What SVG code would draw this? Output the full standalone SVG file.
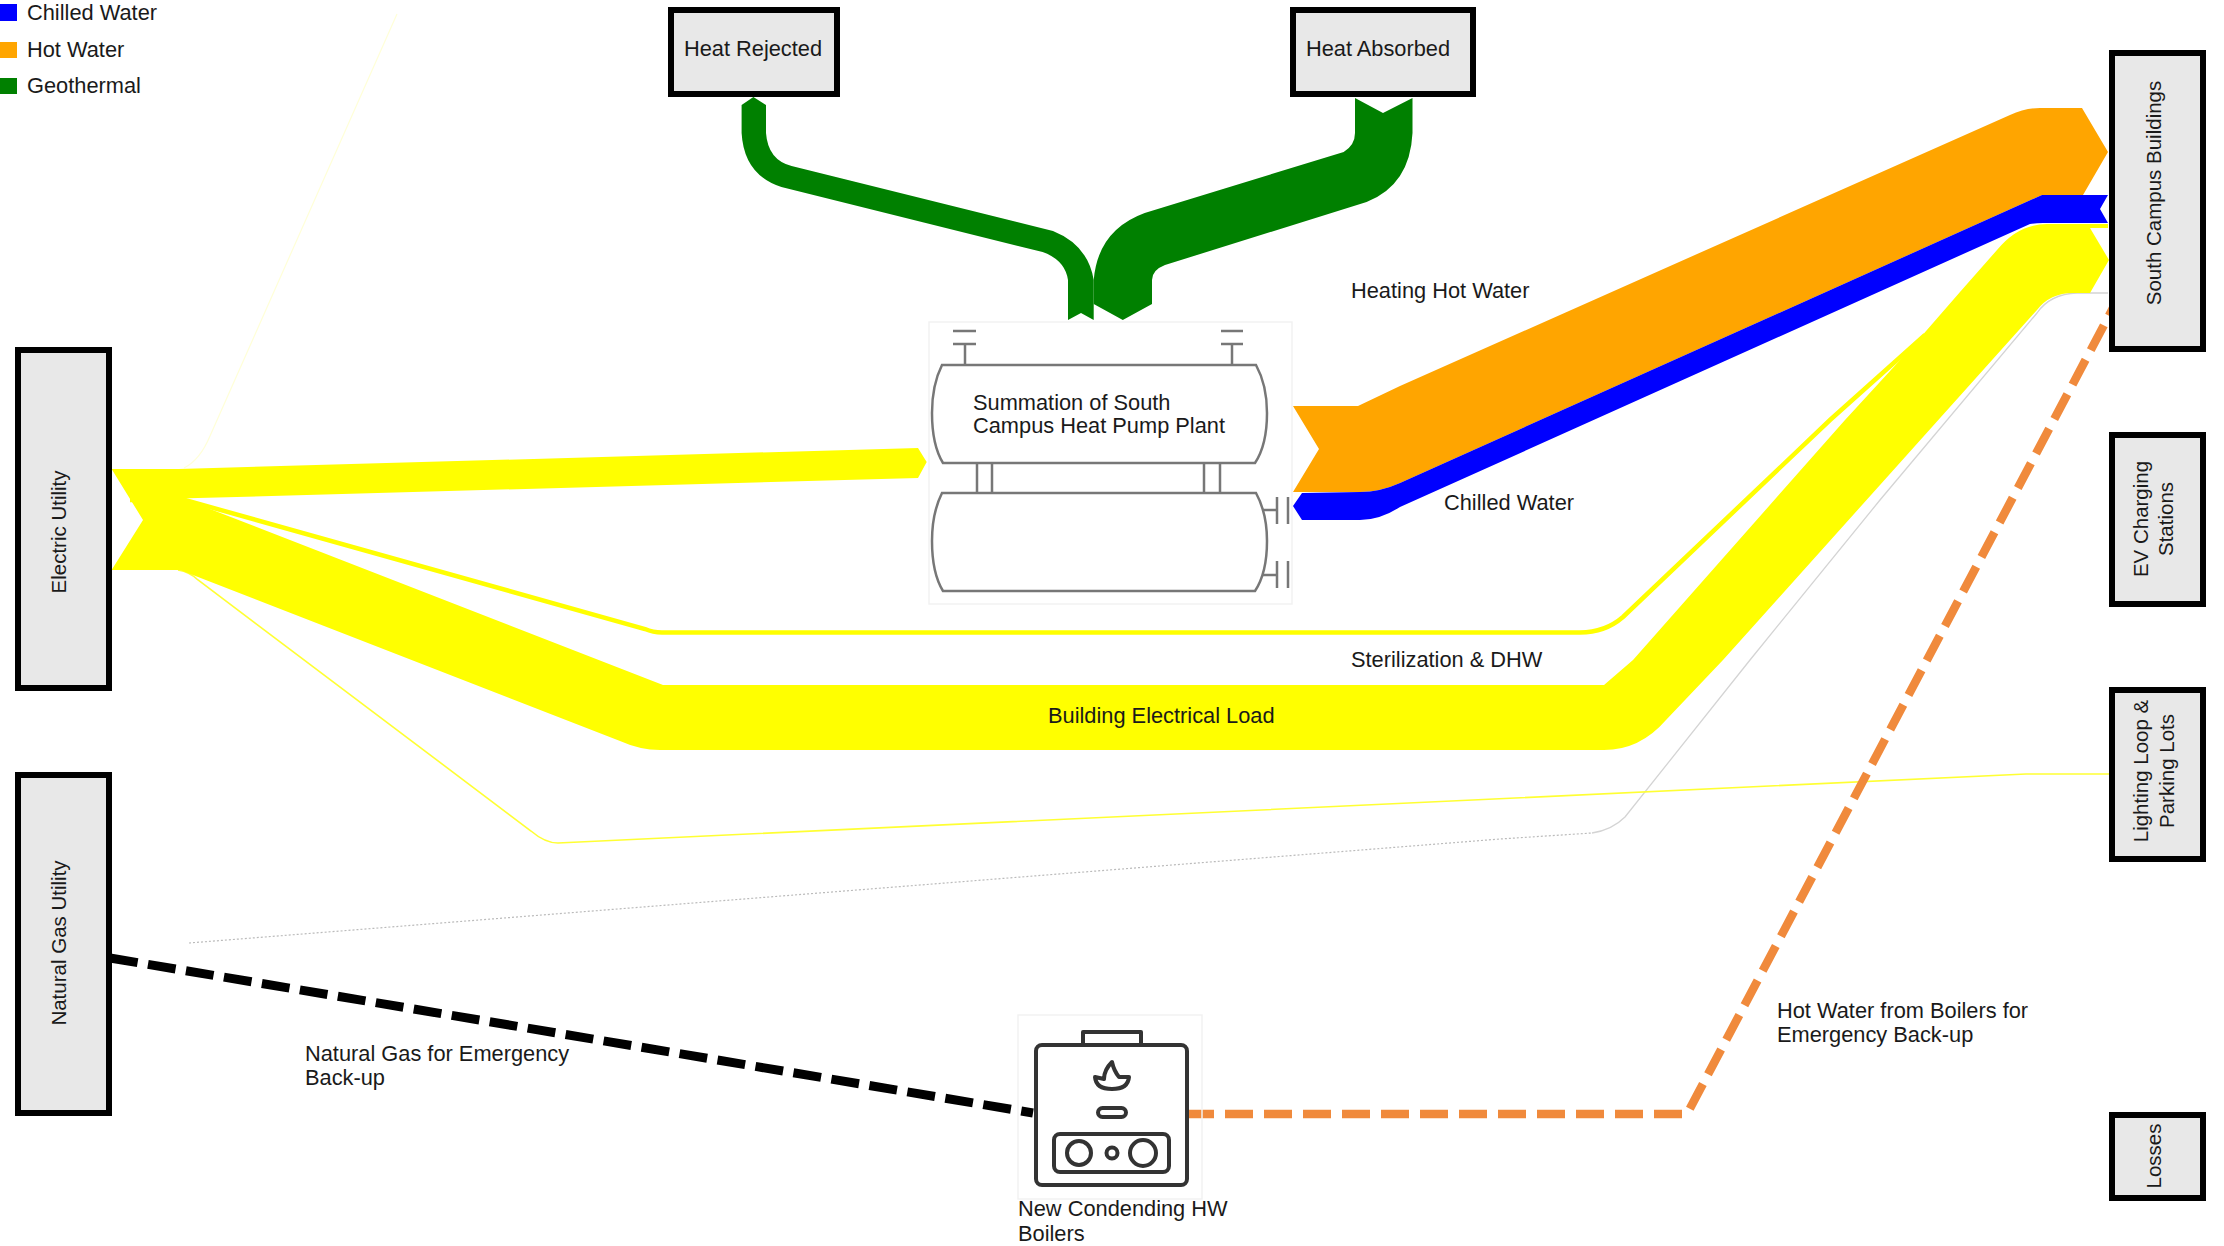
<svg xmlns="http://www.w3.org/2000/svg" width="2224" height="1246" viewBox="0 0 2224 1246">
<style>
text{font-family:"Liberation Sans",Arial,sans-serif;font-size:21.8px;fill:#1a1a1a}
.box{fill:#e8e8e8;stroke:#000;stroke-width:6}
text.rot{font-size:20.5px;text-anchor:middle}
.ctr{text-anchor:middle}
.tank{fill:#fff;stroke:#777;stroke-width:2.5}
.pipe{fill:none;stroke:#777;stroke-width:2.5}
.icon{fill:none;stroke:#333;stroke-width:4;stroke-linejoin:round}
.frame{fill:none;stroke:#f2f2f2;stroke-width:1.5}
</style>
<rect width="2224" height="1246" fill="#fff"/>
<g id="legend">
<rect x="0" y="4" width="17" height="17" fill="#0000ff"/><text x="27" y="20">Chilled Water</text>
<rect x="0" y="42" width="17" height="16" fill="#ffa500"/><text x="27" y="57">Hot Water</text>
<rect x="0" y="78" width="17" height="16" fill="#008000"/><text x="27" y="93">Geothermal</text>
</g>
<g id="connectors">
<path d="M184,468Q200,460 210,436L397,14" fill="none" stroke="#ffffd8" stroke-width="1.2"/>
<path d="M189,943L1500,839L1592,833" fill="none" stroke="#bbb" stroke-width="1.2" stroke-dasharray="2 2"/>
<path d="M1592,833Q1612,830 1625,817L1750,660L1880,500L2037,313Q2050,294 2077,293L2108,293" fill="none" stroke="#d4d4d4" stroke-width="1.3"/>
<path d="M178,570Q190,572 198,580L531,831Q545,843 558,843L2026,774L2109,774" fill="none" stroke="#ffff33" stroke-width="1.6"/>
<path d="M130,500L185,500L645,629Q653,632.5 662,632.5L1580,632.5Q1605,632.5 1623,617L1830,420L1925,335" fill="none" stroke="#ffff00" stroke-width="4.5"/>
<path fill="#ffff00" d="M111.6,469L178.6,469L918,448L926.7,462L918,478L178.6,498.6L134,498.6L143,520L134,502L192,502L663,685L1604,685L1633,660L1845,420L1913,346L1960,292L1997,250Q2018,224 2047,224L2108,224L2108,228L2090,228L2109,260L2090,293L2073,293Q2050,293 2037,310L1880,485L1723,660L1666,720Q1640,750 1604,750L660,750Q640,750 620,741L180,570L111.6,570L143,520Z"/>
<path fill="#ffa500" d="M1293,406L1358,406L1400,386L2010,115Q2025,108 2040,108L2082,108L2108,152L2083,195L2042,195L1400,483Q1380,492 1360,492L1293,492L1319,449Z"/>
<path fill="#0000ff" d="M1293,506L1302,493L1360,492Q1380,492 1400,483L2042,195L2108,195L2100,209L2108,223L2043,223Q2035,223 2030,224L1400,507Q1380,520 1360,520L1302,520Z"/>
<path fill="#008000" d="M753.4,97L766,105L766,133Q768,160 791.6,166L1053,231Q1088,245 1093.7,280L1093.7,320L1081,313L1068,320L1068,280Q1065,260 1042.6,252L781.4,187Q744,175 741.6,133L741.6,105Z"/>
<path fill="#008000" d="M1355,98L1383,113L1412.5,98L1412.5,133Q1410,185 1366.6,202L1165,265Q1152,270 1152,280L1152,304L1122.8,320L1093.7,304L1093.7,280Q1098,230 1144.7,213L1343.7,152Q1355,145 1355,133Z"/>
<path d="M110,958L1033,1113" fill="none" stroke="#000" stroke-width="9" stroke-dasharray="28 10.5"/>
<path d="M1186,1114L1687,1114L2113,308" fill="none" stroke="#f08a3c" stroke-width="8.5" stroke-dasharray="28 11"/>
</g>
<g id="electric-utility"><rect class="box" x="18" y="350" width="91" height="338"/><text class="rot" transform="translate(66,532) rotate(-90)">Electric Utility</text></g>
<g id="natural-gas-utility"><rect class="box" x="18" y="775" width="91" height="338"/><text class="rot" transform="translate(66,943) rotate(-90)">Natural Gas Utility</text></g>
<g id="heat-rejected"><rect class="box" x="671" y="10" width="166" height="84"/><text class="ctr" x="753" y="56">Heat Rejected</text></g>
<g id="heat-absorbed"><rect class="box" x="1293" y="10" width="180" height="84"/><text class="ctr" x="1378" y="56">Heat Absorbed</text></g>
<g id="south-campus"><rect class="box" x="2112" y="53" width="91" height="296"/><text class="rot" transform="translate(2161,193) rotate(-90)">South Campus Buildings</text></g>
<g id="ev-charging"><rect class="box" x="2112" y="435" width="91" height="169"/><text class="rot" transform="translate(2148,519) rotate(-90)">EV Charging</text><text class="rot" transform="translate(2173,519) rotate(-90)">Stations</text></g>
<g id="lighting"><rect class="box" x="2112" y="690" width="91" height="169"/><text class="rot" transform="translate(2148,771) rotate(-90)">Lighting Loop &amp;</text><text class="rot" transform="translate(2174,771) rotate(-90)">Parking Lots</text></g>
<g id="losses"><rect class="box" x="2112" y="1115" width="91" height="83"/><text class="rot" transform="translate(2161,1156) rotate(-90)">Losses</text></g>
<g id="heat-pump-plant">
<rect class="frame" x="929" y="322" width="363" height="282"/>
<path class="pipe" d="M965,365V344M953,344H976M953,331H976M1232,365V344M1221,344H1243M1221,331H1243M977,463V493M992,463V493M1204,463V493M1220,463V493M1263,510H1277M1277,497V524M1288,497V524M1263,575H1277M1277,561V588M1288,561V588"/>
<path class="tank" d="M942,365H1256Q1267,385 1267,413Q1267,445 1255,463H943Q932,445 932,413Q932,385 942,365Z"/>
<path class="tank" d="M942,493H1256Q1267,513 1267,541Q1267,573 1255,591H943Q932,573 932,541Q932,513 942,493Z"/>
<text x="973" y="410">Summation of South</text><text x="973" y="433">Campus Heat Pump Plant</text>
</g>
<g id="boilers">
<rect class="frame" x="1018" y="1015" width="184" height="184"/>
<path class="icon" d="M1083,1045V1032H1141V1045"/>
<rect class="icon" x="1036" y="1045" width="151" height="140" rx="6"/>
<path class="icon" d="M1112,1062Q1114,1071 1119,1077L1129,1077Q1128,1089 1112,1089Q1096,1089 1095,1077L1104,1079Q1104,1070 1112,1062Z"/>
<rect class="icon" x="1098" y="1108" width="28" height="9" rx="4.5"/>
<rect class="icon" x="1054" y="1134" width="115" height="38" rx="6"/>
<circle class="icon" cx="1079" cy="1153" r="12"/><circle class="icon" cx="1112" cy="1153" r="5.5"/><circle class="icon" cx="1143" cy="1153" r="13"/>
<text x="1018" y="1216">New Condending HW</text><text x="1018" y="1241">Boilers</text>
</g>
<g id="labels">
<text x="1351" y="298">Heating Hot Water</text>
<text x="1444" y="510">Chilled Water</text>
<text x="1351" y="667">Sterilization &amp; DHW</text>
<text x="1048" y="723">Building Electrical Load</text>
<text x="305" y="1061">Natural Gas for Emergency</text><text x="305" y="1085">Back-up</text>
<text x="1777" y="1018">Hot Water from Boilers for</text><text x="1777" y="1042">Emergency Back-up</text>
</g>
</svg>
